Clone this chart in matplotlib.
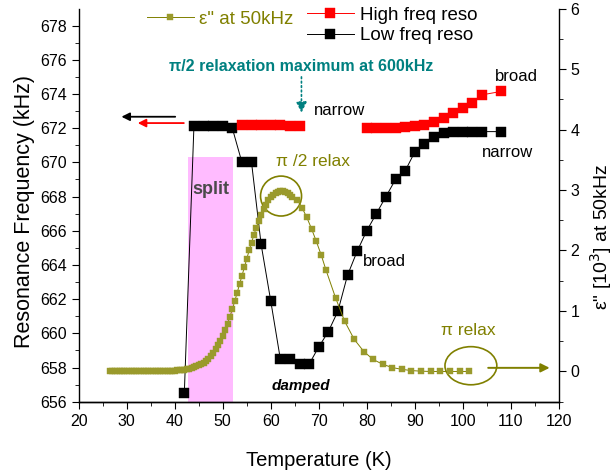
import numpy as np
import matplotlib
matplotlib.use("Agg")
import matplotlib.pyplot as plt
from matplotlib.patches import Ellipse

plt.rcParams.update({
    "font.family": ["Liberation Sans", "DejaVu Sans"],
    "font.size": 11.5,
    "axes.linewidth": 1.0,
    "xtick.direction": "out",
    "ytick.direction": "out",
    "xtick.major.size": 5,
    "ytick.major.size": 5,
    "xtick.minor.size": 3,
    "ytick.minor.size": 3,
})

# dielectric loss eps'' at 50 kHz (units of 10^3)
eps_T = [26.5, 27, 27.5, 28, 28.5, 29, 29.5, 30, 30.5, 31, 31.5, 32, 32.5, 33,
         33.5, 34, 34.5, 35, 35.5, 36, 36.5, 37, 37.5, 38, 38.5, 39, 39.5, 40,
         40.5, 41, 41.5, 42, 42.5, 43, 43.5, 44, 44.5, 45, 45.5, 46, 46.5, 47,
         47.5, 48, 48.5, 49, 49.5, 50, 50.5, 51, 51.5, 52, 52.5, 53, 53.5, 54,
         54.5, 55, 55.5, 56, 56.5, 57, 57.5, 58, 58.5, 59, 59.5, 60, 60.5, 61,
         61.5, 62, 62.5, 63, 63.5, 64, 64.5, 65.5, 66.5, 67.5, 68.5, 69.5, 70.5,
         71.5, 73.5, 75.4, 77.4, 79.4, 81.3, 83.3, 85.3, 87.3, 89.3, 91.3, 93.3,
         95.3, 97.4, 99.4, 101.4]
eps_val = [0.0, 0.0, 0.0, 0.0, 0.0, 0.0, 0.0, 0.0, 0.0, 0.0, 0.0, 0.0, 0.0, 0.0,
           0.0, 0.0, 0.0, 0.005, 0.005, 0.005, 0.005, 0.005, 0.01, 0.01, 0.01, 0.01, 0.015, 0.015,
           0.02, 0.02, 0.025, 0.03, 0.035, 0.045, 0.055, 0.07, 0.085, 0.10, 0.12, 0.145, 0.175, 0.21,
           0.255, 0.305, 0.365, 0.43, 0.505, 0.59, 0.685, 0.79, 0.905, 1.03, 1.16, 1.30, 1.44, 1.58,
           1.72, 1.86, 2.00, 2.13, 2.26, 2.38, 2.49, 2.59, 2.68, 2.76, 2.83, 2.88, 2.92, 2.95,
           2.97, 2.98, 2.98, 2.97, 2.95, 2.92, 2.89, 2.84, 2.71, 2.55, 2.36, 2.15, 1.93,
           1.68, 1.22, 0.83, 0.53, 0.33, 0.20, 0.12, 0.065, 0.035, 0.015, 0.005, 0.0,
           0.0, 0.0, 0.0, 0.0]

# resonance frequencies (kHz); NaN breaks the high-frequency branch
high_T = [54, 56, 58, 60, 62, 64, 66, 73, 80, 82, 84, 86, 88, 90, 92, 94, 96,
          98, 100, 102, 104, 108]
high_f = [672.2, 672.2, 672.2, 672.2, 672.2, 672.1, 672.1, np.nan, 672.0, 672.0,
          672.0, 672.0, 672.05, 672.1, 672.2, 672.35, 672.6, 672.9, 673.2, 673.5,
          673.95, 674.15]

low_T = [42, 44, 46, 48, 50, 52, 54, 56, 58, 60, 62, 64, 66, 68, 70, 72, 74, 76,
         78, 80, 82, 84, 86, 88, 90, 92, 94, 96, 98, 100, 102, 104, 108]
low_f = [656.5, 672.1, 672.1, 672.1, 672.1, 672.0, 670.0, 670.0, 665.2, 661.9,
         658.5, 658.5, 658.2, 658.2, 659.2, 660.1, 661.3, 663.4, 664.8, 666.0,
         667.0, 668.0, 669.0, 669.5, 670.6, 671.1, 671.5, 671.7, 671.8, 671.8,
         671.8, 671.8, 671.8]

OLIVE = "#808000"
OLIVE_FACE = "#9a9a2c"
TEAL = "#008080"

fig = plt.figure(figsize=(6.14, 4.74), dpi=100)
ax = fig.add_axes([0.1282, 0.1525, 0.7818, 0.8295])
ax2 = ax.twinx()

# split region
ax.fill_between([42.8, 52.1], 656, 670.3, color="#ffbbff", lw=0, zorder=0)

ax.plot(low_T, low_f, color="black", lw=0.7, marker="s", ms=6.5,
        mfc="black", mec="black", mew=0.3, label="Low freq reso", zorder=3)
ax.plot(high_T, high_f, color="red", lw=0.7, marker="s", ms=6.5,
        mfc="red", mec="red", mew=0.3, label="High freq reso", zorder=4)

ax2.plot(eps_T, eps_val, color=OLIVE, lw=0.7, marker="s", ms=4.3,
         mfc=OLIVE_FACE, mec=OLIVE_FACE, mew=0.3, label='ε" at 50kHz')

ax.set_xlim(20, 120)
ax.set_ylim(656, 679)
ax2.set_ylim(-0.5, 6)
ax.set_xticks(np.arange(20, 121, 10))
ax.set_xticks(np.arange(25, 120, 10), minor=True)
ax.set_yticks(np.arange(656, 679, 2))
ax.set_yticks(np.arange(657, 679, 2), minor=True)
ax2.set_yticks(np.arange(0, 7, 1))
ax2.set_yticks(np.arange(-0.5, 6, 1), minor=True)

for a in (ax, ax2):
    a.spines["top"].set_visible(False)
ax.spines["right"].set_visible(False)
ax2.spines["left"].set_visible(False)
ax.tick_params(axis="both", which="both", labelsize=11.5, pad=3.5)
ax2.tick_params(axis="y", which="both", labelsize=11.5, pad=3.5)

ax.set_xlabel("Temperature (K)", fontsize=14.5)
ax.xaxis.set_label_coords(0.5, -0.125)
ax.set_ylabel("Resonance Frequency (kHz)", fontsize=15.5, va="center")
ax.yaxis.set_label_coords(-0.112, 0.483)
ax2.set_ylabel('ε" [10$^3$] at 50kHz', fontsize=14, va="center", rotation=90)
ax2.yaxis.set_label_coords(1.088, 0.42)

# legends
ax2.legend(loc="center left", bbox_to_anchor=(0.1417, 0.9725), frameon=False,
           fontsize=13.5, handlelength=2.5, handletextpad=0.3, borderpad=0,
           borderaxespad=0, numpoints=1, labelcolor=OLIVE)
h_low, = [l for l in ax.lines if l.get_label() == "Low freq reso"]
h_high, = [l for l in ax.lines if l.get_label() == "High freq reso"]
ax.legend([h_high, h_low], ["High freq reso", "Low freq reso"],
          loc="center left", bbox_to_anchor=(0.475, 0.957), frameon=False,
          fontsize=13.5, handlelength=2.5, handletextpad=0.35, borderpad=0,
          borderaxespad=0, numpoints=1, labelspacing=0.2)

# annotations on the frequency axis
ax.annotate("", xy=(28.9, 672.67), xytext=(40.1, 672.67),
            arrowprops=dict(arrowstyle="-|>", color="black", lw=1.3,
                            mutation_scale=12, shrinkA=0, shrinkB=0))
ax.annotate("", xy=(32.3, 672.3), xytext=(41.9, 672.3),
            arrowprops=dict(arrowstyle="-|>", color="red", lw=1.3,
                            mutation_scale=12, shrinkA=0, shrinkB=0))
ax.text(66.3, 675.6, "π/2 relaxation maximum at 600kHz", color=TEAL,
        fontsize=11.5, fontweight="bold", ha="center", va="center")
ax.annotate("", xy=(66.4, 672.9), xytext=(66.4, 675.0),
            arrowprops=dict(arrowstyle="-|>", color=TEAL, lw=1.2, ls=":",
                            mutation_scale=16, shrinkA=0, shrinkB=0))
ax.text(68.9, 673.05, "narrow", fontsize=12, ha="left", va="center")
ax.text(106.7, 675.05, "broad", fontsize=12, ha="left", va="center")
ax.text(103.95, 670.6, "narrow", fontsize=12, ha="left", va="center")
ax.text(79.3, 664.2, "broad", fontsize=12, ha="left", va="center")
ax.text(66.3, 656.9, "damped", fontsize=11, fontweight="bold",
        fontstyle="italic", ha="center", va="center")
ax.text(47.6, 668.4, "split", fontsize=13, fontweight="bold", color="#4a4a4a",
        ha="center", va="center")

# annotations on the loss axis
ax2.add_patch(Ellipse((62.15, 2.9), 8.54, 0.66, fill=False, ec=OLIVE, lw=1.2))
ax2.add_patch(Ellipse((101.7, 0.095), 10.8, 0.63, fill=False, ec=OLIVE, lw=1.2))
ax2.text(68.9, 3.47, "π /2 relax", color=OLIVE, fontsize=12.5,
         ha="center", va="center")
ax2.text(101.2, 0.685, "π relax", color=OLIVE, fontsize=12.5,
         ha="center", va="center")
ax2.annotate("", xy=(118.1, 0.06), xytext=(105.3, 0.06),
             arrowprops=dict(arrowstyle="-|>", color=OLIVE, lw=1.4,
                             mutation_scale=13, shrinkA=0, shrinkB=0))

fig.savefig("out.png", dpi=100)
